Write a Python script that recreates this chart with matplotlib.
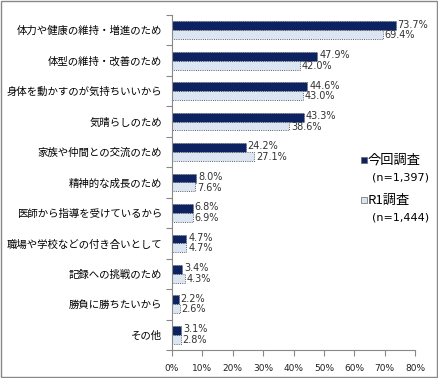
import matplotlib
matplotlib.use("Agg")
import matplotlib.pyplot as plt
from matplotlib.patches import Rectangle
import numpy as np

plt.rcParams['font.family'] = ['Noto Sans CJK JP', 'DejaVu Sans']

categories = [
    "体力や健康の維持・増進のため",
    "体型の維持・改善のため",
    "身体を動かすのが気持ちいいから",
    "気晴らしのため",
    "家族や仲間との交流のため",
    "精神的な成長のため",
    "医師から指導を受けているから",
    "職場や学校などの付き合いとして",
    "記録への挑戦のため",
    "勝負に勝ちたいから",
    "その他",
]
current = [73.7, 47.9, 44.6, 43.3, 24.2, 8.0, 6.8, 4.7, 3.4, 2.2, 3.1]
r1 = [69.4, 42.0, 43.0, 38.6, 27.1, 7.6, 6.9, 4.7, 4.3, 2.6, 2.8]
series_names = ["今回調査", "R1調査"]
series_n = ["(n=1,397)", "(n=1,444)"]
xticks = [0, 10, 20, 30, 40, 50, 60, 70, 80]

dark = "#0d2361"
light = "#dce6f2"

fig = plt.figure(figsize=(4.38, 3.78), dpi=100)
ax = fig.add_axes([172 / 438, 1 - 350 / 378, 243 / 438, 335 / 378])

y = np.arange(len(categories))
h = 0.29
ax.barh(y - h / 2, current, height=h, color=dark, edgecolor="#555555",
        linewidth=0.6, linestyle=":")
ax.barh(y + h / 2, r1, height=h, color=light, edgecolor="#333333",
        linewidth=0.6, linestyle=":")

for i in range(len(categories)):
    ax.text(current[i] + 0.6, y[i] - h / 2 - 0.04, f"{current[i]:.1f}%",
            fontsize=7, color="#333333", va="center", ha="left",
            family="DejaVu Sans")
    ax.text(r1[i] + 0.6, y[i] + h / 2 + 0.02, f"{r1[i]:.1f}%",
            fontsize=7, color="#333333", va="center", ha="left",
            family="DejaVu Sans")

ax.set_xlim(0, 80)
ax.set_ylim(len(categories) - 0.5, -0.5)
ax.set_xticks(xticks)
ax.set_xticklabels([f"{t}%" for t in xticks], fontsize=6.5,
                   family="DejaVu Sans", color="#222222")
ax.set_yticks(np.arange(len(categories) + 1) - 0.5)
ax.set_yticklabels([])
ax.set_yticks(y, minor=True)
ax.set_yticklabels(categories, minor=True, fontsize=7.5)
ax.tick_params(axis="y", which="minor", length=0, pad=7)
ax.tick_params(axis="y", which="major", length=4, color="#888888")
ax.tick_params(axis="x", length=4, color="#888888", pad=6)

for s in ["top", "right"]:
    ax.spines[s].set_visible(False)
for s in ["left", "bottom"]:
    ax.spines[s].set_color("#888888")
    ax.spines[s].set_linewidth(0.8)

# legend
for k, (col, ypx) in enumerate([(dark, 160), (light, 200)]):
    fig.patches.append(Rectangle((361 / 438, 1 - (ypx + 3) / 378), 6 / 438, 6 / 378,
                                 transform=fig.transFigure, facecolor=col,
                                 edgecolor="#666666", linewidth=0.5))
    fig.text(368 / 438, 1 - ypx / 378, series_names[k], fontsize=9.5,
             va="center", ha="left")
    fig.text(372 / 438, 1 - (ypx + 18) / 378, series_n[k], fontsize=8,
             va="center", ha="left", family="DejaVu Sans")

fig.patches.append(Rectangle((0.002, 0.003), 0.995, 0.994, transform=fig.transFigure,
                             fill=False, edgecolor="#888888", linewidth=1))

fig.savefig("out.png", dpi=100)
